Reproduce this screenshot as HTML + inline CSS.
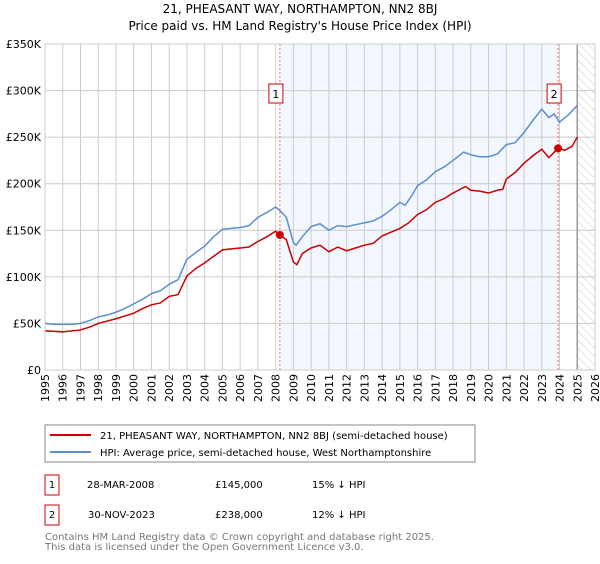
<!DOCTYPE html>
<html><head><meta charset="utf-8"><style>
body{margin:0;background:#fff;font-family:"DejaVu Sans","Liberation Sans",sans-serif;}
svg text{font-family:"DejaVu Sans","Liberation Sans",sans-serif;}
</style></head><body>
<svg id="c" width="600" height="560" xmlns="http://www.w3.org/2000/svg">
<defs><pattern id="hatch" width="6" height="6" patternUnits="userSpaceOnUse" patternTransform="rotate(-45)"><line x1="0" y1="0" x2="0" y2="6" stroke="#ccc" stroke-width="1"/></pattern></defs>
<text x="300" y="13" text-anchor="middle" font-size="12">21, PHEASANT WAY, NORTHAMPTON, NN2 8BJ</text>
<text x="300" y="30" text-anchor="middle" font-size="12">Price paid vs. HM Land Registry's House Price Index (HPI)</text>
<g id="plot"></g>
<rect x="45" y="425" width="430" height="37" fill="#fff" stroke="#888"/>
<line x1="50" y1="435" x2="91" y2="435" stroke="#cc0000" stroke-width="2"/>
<text x="100" y="439" font-size="10">21, PHEASANT WAY, NORTHAMPTON, NN2 8BJ (semi-detached house)</text>
<line x1="50" y1="452" x2="91" y2="452" stroke="#5b8fd0" stroke-width="2"/>
<text x="100" y="456" font-size="10">HPI: Average price, semi-detached house, West Northamptonshire</text>
<g font-size="10">
<rect x="45" y="475" width="14" height="20" fill="#fff" stroke="#cc0000"/><text x="52" y="488" text-anchor="middle">1</text>
<text x="87" y="488">28-MAR-2008</text><text x="215" y="488">£145,000</text><text x="312" y="488">15% ↓ HPI</text></g>
<g font-size="10">
<rect x="45" y="505" width="14" height="20" fill="#fff" stroke="#cc0000"/><text x="52" y="518" text-anchor="middle">2</text>
<text x="88" y="518">30-NOV-2023</text><text x="215" y="518">£238,000</text><text x="312" y="518">12% ↓ HPI</text></g>
<text x="45" y="540" font-size="10" fill="#777">Contains HM Land Registry data © Crown copyright and database right 2025.</text>
<text x="45" y="550" font-size="10" fill="#777">This data is licensed under the Open Government Licence v3.0.</text>
</svg>
<script>
const hpiYears=[1995,1995.5,1996,1996.5,1997,1997.5,1998,1998.5,1999,1999.5,2000,2000.5,2001,2001.5,2002,2002.5,2003,2003.5,2004,2004.5,2005,2005.5,2006,2006.5,2007,2007.5,2008,2008.3,2008.6,2009,2009.15,2009.5,2010,2010.5,2011,2011.5,2012,2012.5,2013,2013.5,2014,2014.5,2015,2015.3,2015.7,2016,2016.5,2017,2017.5,2018,2018.6,2019,2019.5,2020,2020.5,2021,2021.5,2022,2022.5,2023,2023.4,2023.7,2024,2024.5,2025];
const hpiValues=[50,49,49,49,50,53,57,59,62,66,71,76,82,85,92,97,119,126,133,143,151,152,153,155,164,169,175,170,164,137,134,143,154,157,150,155,154,156,158,160,165,172,180,177,188,198,204,213,218,225,234,231,229,229,232,242,244,255,268,280,271,275,266,274,284];
const priceYears=[1995,1996,1997,1997.5,1998,1999,2000,2000.5,2001,2001.5,2002,2002.5,2003,2003.5,2004,2004.5,2005,2005.5,2006,2006.5,2007,2007.5,2008,2008.24,2008.6,2009,2009.2,2009.5,2010,2010.5,2011,2011.5,2012,2012.5,2013,2013.5,2014,2014.5,2015,2015.5,2016,2016.5,2017,2017.5,2018,2018.7,2019,2019.5,2020,2020.5,2020.8,2021,2021.5,2022,2022.5,2023,2023.4,2023.92,2024.3,2024.7,2025];
const priceValues=[42,41,43,46,50,55,61,66,70,72,79,81,101,109,115,122,129,130,131,132,138,143,149,145,140,116,113,125,131,134,127,132,128,131,134,136,144,148,152,158,167,172,180,184,190,197,193,192,190,193,194,205,212,222,230,237,228,238,236,240,250];
const sales=[{n:"1",year:2008.24,value:145},{n:"2",year:2023.92,value:238}];
const yTicks=[0,50,100,150,200,250,300,350];
const yTickLabels=["£0","£50K","£100K","£150K","£200K","£250K","£300K","£350K"];
const xTicks=[1995,1996,1997,1998,1999,2000,2001,2002,2003,2004,2005,2006,2007,2008,2009,2010,2011,2012,2013,2014,2015,2016,2017,2018,2019,2020,2021,2022,2023,2024,2025,2026];
const X0=45,X1=595,Y0=370,Y1=44;
const xs=y=>X0+(y-1995)/(2026-1995)*(X1-X0);
const ys=v=>Y0-v/350*(Y0-Y1);
const NS="http://www.w3.org/2000/svg";
const g=document.getElementById('plot');
function mk(t,a){const e=document.createElementNS(NS,t);for(const k in a)e.setAttribute(k,a[k]);g.appendChild(e);return e;}
let e;
e=mk('rect',{x:xs(sales[0].year),y:Y1,width:xs(sales[1].year)-xs(sales[0].year),height:Y0-Y1,fill:'#eef3fd',opacity:0.7});


e=mk('rect',{x:xs(2025),y:Y1,width:X1-xs(2025),height:Y0-Y1,fill:'url(#hatch)'});


yTicks.forEach((t,i)=>{
 e=mk('line',{x1:X0,x2:X1,y1:ys(t),y2:ys(t),stroke:'#cccccc'});
 
 
 e=mk('text',{x:X0-4,y:ys(t)+4,'text-anchor':'end','font-size':'11'});e.textContent=yTickLabels[i];
 
 
});
xTicks.forEach(t=>{
 e=mk('line',{x1:xs(t),x2:xs(t),y1:Y1,y2:Y0,stroke:'#cccccc'});
 
 
 e=mk('text',{x:0,y:0,'text-anchor':'end','font-size':'11',transform:`translate(${xs(t)+4},${Y0+4}) rotate(-90)`});e.textContent=t;
 
 
});
e=mk('line',{x1:xs(2025),x2:xs(2025),y1:Y1,y2:Y0,stroke:'#999',"stroke-width":1.5});


sales.forEach(s=>{
 e=mk('line',{x1:xs(s.year),x2:xs(s.year),y1:Y1,y2:Y0,stroke:'#ff6666','stroke-dasharray':'2,2'});
 
 
});
e=mk('polyline',{points:hpiYears.map((y,i)=>xs(y)+','+ys(hpiValues[i])).join(' '),fill:'none',stroke:'#5b8fd0','stroke-width':1.5});


e=mk('polyline',{points:priceYears.map((y,i)=>xs(y)+','+ys(priceValues[i])).join(' '),fill:'none',stroke:'#cc0000','stroke-width':1.5});


sales.forEach(s=>{
 e=mk('circle',{cx:xs(s.year),cy:ys(s.value),r:4,fill:'#cc0000'});
 
 
 const bx=xs(s.year)-11;
 e=mk('rect',{x:bx,y:84,width:14,height:19,fill:'#fff',stroke:'#cc0000'});
 
 
 e=mk('text',{x:bx+7,y:98,'text-anchor':'middle','font-size':'11'});e.textContent=s.n;
 
 
});
e=mk('rect',{x:X0,y:Y1,width:X1-X0,height:Y0-Y1,fill:'none',stroke:'#cccccc'});


</script>
</body></html>
